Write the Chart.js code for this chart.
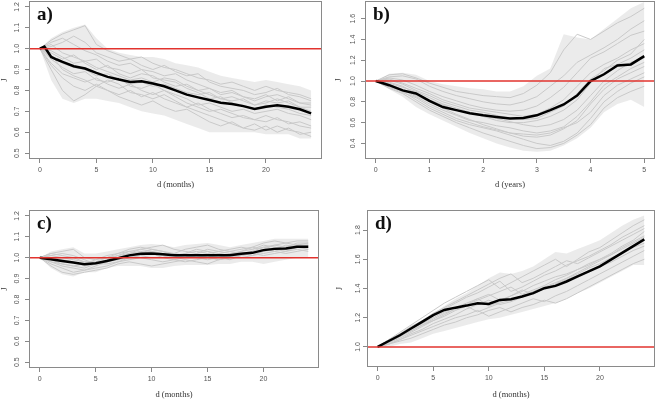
<!DOCTYPE html>
<html>
<head>
<meta charset="utf-8">
<script src="https://cdn.jsdelivr.net/npm/chart.js@4.4.1/dist/chart.umd.min.js"></script>
<style>
  body { margin: 0; background: #fff; width: 656px; height: 401px; position: relative; overflow: hidden; }
  canvas { position: absolute; }
</style>
</head>
<body>
<canvas id="pa" width="328" height="200" style="left:0;top:0"></canvas>
<canvas id="pb" width="328" height="200" style="left:328px;top:0"></canvas>
<canvas id="pc" width="328" height="201" style="left:0;top:200px"></canvas>
<canvas id="pd" width="328" height="201" style="left:328px;top:200px"></canvas>
<script>
// x positions
const months = [0,1,2,3,4,5,6,7,8,9,10,11,12,13,14,15,16,17,18,19,20,21,22,23,24];
const years = [0,0.25,0.5,0.75,1,1.25,1.5,1.75,2,2.25,2.5,2.75,3,3.25,3.5,3.75,4,4.25,4.5,4.75,5];

// tick labels
const monthTicks = [0,5,10,15,20];
const yearTicks = [0,1,2,3,4,5];
const acYTicks = [0.5,0.6,0.7,0.8,0.9,1.0,1.1,1.2];
const bYTicks = [0.4,0.6,0.8,1.0,1.2,1.4,1.6];
const dYTicks = [1.0,1.2,1.4,1.6,1.8];

// panel a) mean path and spread of simulations
const aMeanX = [0,0.4,1,1.5,2,3,4,5,6,7,8,9,10,11,12,13,14,15,16,17,18,19,20,21,22,23,24];
const aMean = [1.0,1.01,0.96,0.948,0.937,0.916,0.905,0.884,0.865,0.852,0.841,0.844,0.833,0.82,0.8,0.78,0.767,0.754,0.741,0.735,0.725,0.711,0.722,0.729,0.722,0.71,0.69];
const aUpper = [1.0,1.05,1.08,1.1,1.115,1.05,1.0,0.98,0.97,0.96,0.96,0.95,0.93,0.92,0.91,0.89,0.87,0.86,0.85,0.84,0.85,0.84,0.83,0.82,0.8];
const aLower = [1.0,0.85,0.76,0.74,0.76,0.76,0.75,0.74,0.72,0.7,0.69,0.68,0.66,0.64,0.62,0.6,0.6,0.6,0.6,0.6,0.59,0.59,0.59,0.57,0.57];
const aGray = [
  [1.00,1.04,1.07,1.09,1.11,1.02,0.99,0.97,0.95,0.96,0.93,0.91,0.90,0.88,0.86,0.85,0.83,0.84,0.82,0.80,0.82,0.80,0.79,0.78,0.76],
  [1.00,0.93,0.88,0.86,0.84,0.86,0.83,0.81,0.83,0.80,0.78,0.80,0.77,0.74,0.72,0.70,0.71,0.69,0.67,0.66,0.68,0.66,0.65,0.63,0.62],
  [1.00,0.98,0.95,0.97,0.93,0.90,0.92,0.88,0.86,0.88,0.87,0.84,0.82,0.83,0.80,0.78,0.76,0.77,0.75,0.73,0.74,0.76,0.74,0.72,0.70],
  [1.00,0.90,0.80,0.75,0.78,0.82,0.80,0.78,0.80,0.77,0.79,0.76,0.74,0.72,0.70,0.68,0.66,0.64,0.62,0.64,0.61,0.63,0.61,0.60,0.58],
  [1.00,1.02,0.98,0.96,0.94,0.95,0.91,0.90,0.88,0.90,0.89,0.87,0.88,0.85,0.83,0.81,0.79,0.80,0.77,0.75,0.77,0.78,0.76,0.74,0.73],
  [1.00,0.95,0.91,0.88,0.89,0.85,0.84,0.86,0.82,0.81,0.83,0.80,0.78,0.76,0.73,0.74,0.72,0.70,0.71,0.69,0.70,0.71,0.69,0.68,0.66],
  [1.00,1.03,1.05,1.02,0.99,0.97,0.94,0.92,0.93,0.90,0.86,0.85,0.84,0.81,0.79,0.76,0.77,0.74,0.73,0.71,0.73,0.72,0.71,0.69,0.68],
  [1.00,0.96,0.93,0.91,0.90,0.87,0.88,0.85,0.83,0.84,0.82,0.83,0.81,0.79,0.78,0.79,0.76,0.75,0.76,0.73,0.75,0.74,0.75,0.72,0.72],
  [1.00,0.92,0.86,0.82,0.80,0.83,0.80,0.77,0.75,0.73,0.75,0.72,0.70,0.71,0.68,0.65,0.63,0.65,0.62,0.61,0.63,0.60,0.62,0.59,0.60],
  [1.00,1.01,1.03,1.06,1.03,0.98,0.96,0.94,0.95,0.92,0.90,0.92,0.89,0.87,0.88,0.84,0.82,0.81,0.80,0.78,0.79,0.81,0.78,0.77,0.75],
  [1.00,0.97,0.90,0.87,0.85,0.82,0.85,0.83,0.79,0.78,0.76,0.78,0.75,0.72,0.74,0.71,0.69,0.67,0.68,0.66,0.65,0.67,0.64,0.65,0.63],
  [1.00,0.99,0.96,0.93,0.94,0.91,0.89,0.87,0.85,0.86,0.84,0.86,0.85,0.82,0.80,0.81,0.78,0.79,0.77,0.76,0.78,0.75,0.77,0.74,0.74]
];

// panel b)
const bMean = [1.0,0.96,0.91,0.88,0.81,0.75,0.72,0.69,0.67,0.655,0.64,0.645,0.67,0.72,0.775,0.86,1.0,1.065,1.15,1.16,1.24];
const bUpper = [1.0,1.07,1.08,1.06,1.0,0.97,0.95,0.93,0.92,0.9,0.9,0.95,1.05,1.12,1.45,1.42,1.4,1.5,1.6,1.7,1.76];
const bLower = [1.0,0.92,0.85,0.75,0.68,0.62,0.56,0.5,0.45,0.4,0.36,0.33,0.32,0.33,0.38,0.45,0.55,0.7,0.78,0.82,0.75];
const bGray = [
  [1.00,1.04,1.05,1.02,0.95,0.90,0.86,0.83,0.80,0.78,0.77,0.80,0.85,0.95,1.05,1.18,1.25,1.32,1.40,1.50,1.58],
  [1.00,0.97,0.92,0.86,0.80,0.74,0.68,0.63,0.58,0.54,0.50,0.47,0.46,0.48,0.54,0.62,0.78,0.92,1.02,1.08,1.14],
  [1.00,1.02,0.98,0.93,0.88,0.82,0.78,0.74,0.72,0.70,0.68,0.66,0.68,0.74,0.82,0.95,1.08,1.16,1.22,1.30,1.36],
  [1.00,0.95,0.90,0.82,0.74,0.68,0.62,0.58,0.55,0.52,0.48,0.44,0.40,0.38,0.42,0.50,0.64,0.80,0.90,0.98,1.04],
  [1.00,1.06,1.07,1.03,0.98,0.94,0.90,0.88,0.86,0.85,0.84,0.88,0.96,1.08,1.30,1.45,1.40,1.48,1.56,1.62,1.70],
  [1.00,0.98,0.94,0.90,0.84,0.78,0.74,0.70,0.66,0.64,0.61,0.58,0.56,0.58,0.63,0.72,0.86,1.00,1.10,1.18,1.22],
  [1.00,0.93,0.88,0.80,0.72,0.66,0.60,0.55,0.50,0.46,0.42,0.38,0.35,0.36,0.40,0.48,0.58,0.74,0.84,0.90,0.95],
  [1.00,1.03,1.01,0.96,0.90,0.85,0.81,0.77,0.74,0.72,0.71,0.72,0.76,0.84,0.94,1.08,1.22,1.28,1.36,1.44,1.48],
  [1.00,0.99,0.95,0.88,0.82,0.77,0.72,0.69,0.66,0.62,0.60,0.60,0.62,0.66,0.72,0.82,0.98,1.12,1.16,1.22,1.30],
  [1.00,0.96,0.91,0.85,0.78,0.72,0.67,0.62,0.60,0.57,0.55,0.52,0.50,0.52,0.56,0.66,0.80,0.96,1.04,1.12,1.18],
  [1.00,1.01,0.97,0.91,0.86,0.80,0.76,0.72,0.70,0.67,0.64,0.63,0.64,0.70,0.76,0.88,1.02,1.10,1.20,1.26,1.40],
  [1.00,0.94,0.89,0.84,0.76,0.70,0.64,0.60,0.56,0.53,0.50,0.49,0.48,0.50,0.55,0.60,0.70,0.86,0.96,1.02,1.08]
];

// panel c)
const cMean = [1.0,0.992,0.984,0.977,0.969,0.973,0.984,0.997,1.011,1.019,1.02,1.016,1.012,1.012,1.011,1.012,1.012,1.011,1.019,1.023,1.036,1.042,1.044,1.052,1.052];
const cUpper = [1.0,1.03,1.04,1.05,1.02,1.02,1.03,1.04,1.05,1.06,1.065,1.06,1.05,1.06,1.065,1.07,1.06,1.05,1.06,1.07,1.08,1.09,1.09,1.09,1.09];
const cLower = [1.0,0.95,0.92,0.91,0.93,0.93,0.95,0.96,0.96,0.96,0.95,0.95,0.96,0.965,0.965,0.965,0.97,0.97,0.98,0.98,0.97,0.98,0.99,1.0,1.0];
const cGray = [
  [1.00,1.02,1.03,1.04,1.00,0.99,1.01,1.02,1.04,1.05,1.04,1.03,1.02,1.04,1.05,1.06,1.04,1.03,1.04,1.05,1.07,1.08,1.07,1.08,1.08],
  [1.00,0.97,0.95,0.93,0.94,0.95,0.96,0.98,0.99,1.00,0.99,0.98,0.99,0.98,0.99,1.00,0.99,1.00,1.01,1.02,1.01,1.02,1.03,1.04,1.03],
  [1.00,1.00,0.99,0.98,0.96,0.97,0.99,1.00,1.02,1.03,1.02,1.01,1.00,1.01,1.00,1.01,1.00,0.99,1.01,1.02,1.04,1.03,1.05,1.06,1.06],
  [1.00,0.98,0.96,0.95,0.94,0.96,0.98,1.00,1.01,1.02,1.04,1.03,1.01,1.02,1.03,1.02,1.03,1.02,1.03,1.04,1.05,1.06,1.05,1.07,1.07],
  [1.00,1.01,1.00,0.99,0.98,0.97,0.99,1.01,1.03,1.04,1.05,1.06,1.04,1.03,1.02,1.04,1.03,1.04,1.05,1.04,1.06,1.05,1.04,1.06,1.05],
  [1.00,0.96,0.93,0.92,0.93,0.94,0.95,0.97,0.98,0.97,0.96,0.97,0.98,0.99,0.98,0.97,0.99,1.00,1.00,1.01,1.02,1.03,1.02,1.03,1.04],
  [1.00,1.02,1.01,1.00,0.98,0.98,1.00,1.02,1.03,1.02,1.03,1.01,1.00,1.02,1.04,1.03,1.02,1.01,1.03,1.05,1.04,1.06,1.07,1.06,1.07],
  [1.00,0.99,0.97,0.96,0.95,0.97,0.98,0.99,1.00,1.01,1.00,1.00,1.02,1.01,1.00,0.99,1.00,1.02,1.01,1.03,1.03,1.04,1.03,1.05,1.04],
  [1.00,0.98,0.97,0.96,0.97,0.99,1.00,1.01,1.02,1.04,1.03,1.02,1.01,1.00,1.02,1.03,1.01,1.00,1.02,1.03,1.05,1.04,1.06,1.05,1.06],
  [1.00,1.01,1.02,1.01,0.99,0.97,0.97,0.98,1.00,1.01,1.02,1.00,0.99,1.00,1.01,1.00,1.02,1.03,1.02,1.01,1.03,1.05,1.04,1.05,1.05]
];

// panel d)
const dMean = [1.0,1.041,1.08,1.126,1.172,1.218,1.253,1.269,1.283,1.299,1.294,1.322,1.326,1.345,1.368,1.402,1.418,1.448,1.483,1.517,1.552,1.598,1.644,1.69,1.736];
const dUpper = [1.0,1.045,1.09,1.14,1.18,1.23,1.28,1.33,1.37,1.42,1.47,1.51,1.5,1.52,1.55,1.6,1.65,1.64,1.67,1.7,1.73,1.78,1.83,1.87,1.9];
const dLower = [1.0,1.0,1.02,1.03,1.06,1.09,1.11,1.13,1.15,1.17,1.19,1.2,1.22,1.24,1.26,1.28,1.3,1.33,1.37,1.4,1.44,1.48,1.52,1.56,1.56];
const dGray = [
  [1.00,1.05,1.10,1.15,1.20,1.25,1.30,1.34,1.38,1.42,1.46,1.40,1.44,1.48,1.52,1.56,1.60,1.55,1.60,1.65,1.68,1.73,1.78,1.83,1.87],
  [1.00,1.02,1.05,1.08,1.11,1.14,1.17,1.20,1.22,1.25,1.21,1.24,1.27,1.30,1.33,1.31,1.35,1.38,1.42,1.46,1.50,1.54,1.58,1.62,1.66],
  [1.00,1.04,1.08,1.12,1.16,1.20,1.24,1.27,1.30,1.33,1.28,1.31,1.35,1.38,1.42,1.45,1.48,1.50,1.53,1.57,1.60,1.63,1.68,1.72,1.76],
  [1.00,1.03,1.06,1.10,1.14,1.18,1.21,1.25,1.28,1.24,1.27,1.30,1.32,1.35,1.38,1.41,1.44,1.47,1.50,1.54,1.57,1.61,1.64,1.68,1.71],
  [1.00,1.04,1.09,1.13,1.17,1.22,1.26,1.30,1.34,1.37,1.41,1.45,1.38,1.41,1.45,1.49,1.52,1.56,1.59,1.62,1.66,1.70,1.75,1.79,1.83],
  [1.00,1.02,1.04,1.06,1.09,1.12,1.15,1.17,1.20,1.22,1.25,1.27,1.24,1.27,1.29,1.32,1.30,1.33,1.37,1.41,1.45,1.49,1.53,1.57,1.60],
  [1.00,1.04,1.08,1.11,1.15,1.19,1.23,1.26,1.29,1.33,1.36,1.32,1.35,1.39,1.36,1.40,1.43,1.47,1.51,1.55,1.59,1.63,1.67,1.71,1.75],
  [1.00,1.03,1.07,1.11,1.15,1.18,1.22,1.26,1.29,1.32,1.35,1.38,1.41,1.36,1.39,1.42,1.46,1.49,1.53,1.56,1.60,1.64,1.69,1.73,1.79],
  [1.00,1.02,1.05,1.09,1.12,1.16,1.19,1.22,1.26,1.29,1.32,1.29,1.31,1.34,1.37,1.40,1.43,1.46,1.49,1.52,1.55,1.58,1.62,1.66,1.69],
  [1.00,1.05,1.09,1.14,1.18,1.23,1.27,1.31,1.35,1.39,1.43,1.47,1.50,1.44,1.47,1.51,1.55,1.59,1.57,1.61,1.65,1.69,1.73,1.77,1.81]
];

// draws the R-style box, rotated y tick labels and the panel letter
const framePlugin = {
  id: 'frame',
  afterDraw(chart, args, o) {
    const { ctx, chartArea: a } = chart;
    const y = chart.scales.y;
    ctx.save();
    ctx.strokeStyle = '#8a8a8a';
    ctx.lineWidth = 1;
    ctx.strokeRect(a.left + 0.5, a.top + 0.5, a.right - a.left - 1, a.bottom - a.top - 1);
    ctx.fillStyle = '#555';
    ctx.font = '7px "Liberation Sans"';
    ctx.textAlign = 'center';
    ctx.textBaseline = 'middle';
    y.ticks.forEach(t => {
      ctx.save();
      ctx.translate(a.left - o.gap, y.getPixelForValue(t.value));
      ctx.rotate(-Math.PI / 2);
      ctx.fillText(t.value.toFixed(1), 0, 0);
      ctx.restore();
    });
    ctx.fillStyle = '#111';
    ctx.font = 'bold 19px "Liberation Serif"';
    ctx.textAlign = 'left';
    ctx.textBaseline = 'alphabetic';
    ctx.fillText(o.letter, a.left + 8, a.top + 19);
    ctx.restore();
  }
};

function pts(xs, ys) {
  return ys.map((v, i) => ({ x: xs[i], y: v }));
}

function panel(id, p) {
  const datasets = [
    { data: pts(p.xs, p.upper), fill: '+1', backgroundColor: 'rgba(205,205,205,0.4)', borderWidth: 0, order: 4 },
    { data: pts(p.xs, p.lower), fill: false, borderWidth: 0, order: 4 }
  ];
  p.gray.forEach(g => datasets.push({ data: pts(p.xs, g), borderColor: '#c9c9c9', borderWidth: 1, fill: false, order: 3 }));
  datasets.push({ data: pts(p.meanX, p.mean), borderColor: '#000', borderWidth: 2.5, fill: false, order: 1 });
  datasets.push({ data: [{ x: p.xMin, y: 1 }, { x: p.xMax, y: 1 }], borderColor: '#e2332e', borderWidth: 1.5, fill: false, order: 0 });

  return new Chart(document.getElementById(id), {
    type: 'line',
    data: { datasets },
    plugins: [framePlugin],
    options: {
      responsive: false,
      animation: false,
      devicePixelRatio: 1,
      events: [],
      elements: { point: { radius: 0 }, line: { tension: 0 } },
      layout: { padding: { left: 0, top: p.top, right: p.right, bottom: 0 } },
      plugins: {
        legend: { display: false },
        tooltip: { enabled: false },
        frame: { letter: p.letter, gap: p.gap }
      },
      scales: {
        x: {
          type: 'linear',
          min: p.xMin,
          max: p.xMax,
          afterBuildTicks: s => { s.ticks = p.xTicks.map(v => ({ value: v })); },
          afterFit: s => { s.height = p.xHeight; },
          grid: { drawOnChartArea: false, drawTicks: true, tickLength: 4, color: '#888' },
          border: { display: false },
          ticks: { padding: 3, color: '#555', font: { family: 'Liberation Sans', size: 7 }, maxRotation: 0 },
          title: { display: true, text: p.xTitle, color: '#333', font: { family: 'Liberation Serif', size: 8.5 }, padding: { top: 0, bottom: p.xTitlePad } }
        },
        y: {
          type: 'linear',
          min: p.yMin,
          max: p.yMax,
          afterBuildTicks: s => { s.ticks = p.yTicks.map(v => ({ value: v })); },
          afterFit: s => { s.width = p.yWidth; },
          grid: { drawOnChartArea: false, drawTicks: true, tickLength: 4, color: '#888' },
          border: { display: false },
          ticks: { display: false },
          title: { display: true, text: 'J', color: '#333', font: { family: 'Liberation Serif', size: 8.5 }, padding: { top: p.jPad, bottom: 0 } }
        }
      }
    }
  });
}

panel('pa', { xs: months, meanX: aMeanX, mean: aMean, upper: aUpper, lower: aLower, gray: aGray,
  xMin: -0.96, xMax: 24.96, yMin: 0.472, yMax: 1.228, xTicks: monthTicks, yTicks: acYTicks,
  top: 1, right: 6, yWidth: 29, xHeight: 41, xTitle: 'd (months)', xTitlePad: 10, jPad: 0, gap: 12, letter: 'a)' });

panel('pb', { xs: years, meanX: years, mean: bMean, upper: bUpper, lower: bLower, gray: bGray,
  xMin: -0.2, xMax: 5.2, yMin: 0.25, yMax: 1.77, xTicks: yearTicks, yTicks: bYTicks,
  top: 1, right: 1, yWidth: 37, xHeight: 41, xTitle: 'd (years)', xTitlePad: 10, jPad: 6, gap: 12, letter: 'b)' });

panel('pc', { xs: months, meanX: months, mean: cMean, upper: cUpper, lower: cLower, gray: cGray,
  xMin: -0.96, xMax: 24.96, yMin: 0.472, yMax: 1.228, xTicks: monthTicks, yTicks: acYTicks,
  top: 10, right: 9, yWidth: 29, xHeight: 33, xTitle: 'd (months)', xTitlePad: 1, jPad: 0, gap: 12, letter: 'c)' });

panel('pd', { xs: months, meanX: months, mean: dMean, upper: dUpper, lower: dLower, gray: dGray,
  xMin: -0.96, xMax: 24.96, yMin: 0.863, yMax: 1.937, xTicks: monthTicks, yTicks: dYTicks,
  top: 10, right: 1, yWidth: 39, xHeight: 34, xTitle: 'd (months)', xTitlePad: 1, jPad: 7, gap: 9, letter: 'd)' });
</script>
</body>
</html>
